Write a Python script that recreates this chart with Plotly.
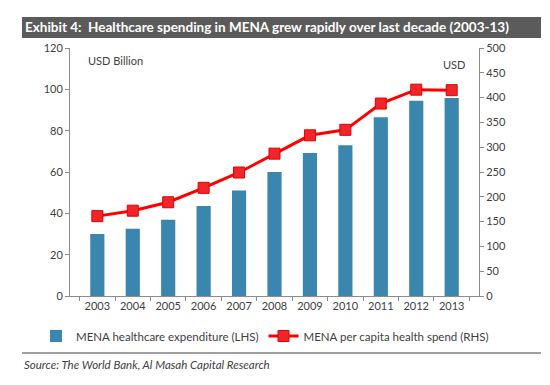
import plotly.graph_objects as go

years = ["2003", "2004", "2005", "2006", "2007", "2008", "2009", "2010", "2011", "2012", "2013"]
expenditure_bn = [30.0, 32.6, 36.9, 43.5, 51.0, 60.0, 69.2, 73.0, 86.5, 94.5, 95.8]
per_capita_usd = [161, 172, 189, 218, 249, 287, 324, 335, 388, 416, 415]

bar_name = "MENA healthcare expenditure (LHS)"
line_name = "MENA per capita health spend (RHS)"
title_text = "Exhibit 4:  Healthcare spending in MENA grew rapidly over last decade (2003-13)"
source_text = "Source: The World Bank, Al Masah Capital Research"

W, H = 550, 385
L, R, T, B = 62, 471, 40, 288  # plot area in pixels
PW, PH = R - L, B - T


def px(x):
    return (x - L) / PW


def py(y):
    return (B - y) / PH


FONT = "Lato, 'Open Sans', sans-serif"
TXT = "#404040"
AXC = "#8c8c8c"

fig = go.Figure()
fig.add_trace(go.Bar(
    x=years, y=expenditure_bn, name=bar_name,
    marker=dict(color="#3A86AF", line=dict(width=0)),
    yaxis="y",
))
fig.add_trace(go.Scatter(
    x=years, y=per_capita_usd, name=line_name, yaxis="y2",
    mode="lines+markers",
    line=dict(color="#FF0000", width=3),
    marker=dict(symbol="square", size=11, color="#F0262A", line=dict(color="#E00000", width=1)),
))

fig.update_layout(
    width=W, height=H,
    margin=dict(l=L, r=W - R, t=T, b=H - B, pad=0),
    paper_bgcolor="white", plot_bgcolor="white",
    font=dict(family=FONT, size=11, color=TXT),
    bargap=0.6,
    showlegend=True,
    legend=dict(
        orientation="h", x=px(28), xanchor="left", y=py(328), yanchor="middle",
        font=dict(size=11.5, color=TXT), bgcolor="rgba(0,0,0,0)",
        itemwidth=30, traceorder="normal", tracegroupgap=0,
    ),
    xaxis=dict(
        type="category", showgrid=False, showline=True, linecolor=AXC, linewidth=1,
        ticks="outside", tickson="boundaries", ticklen=4, tickcolor=AXC,
        tickfont=dict(size=11, color=TXT),
    ),
    yaxis=dict(
        range=[0, 120], dtick=20, showgrid=False, showline=True, linecolor=AXC,
        linewidth=1, ticks="outside", ticklen=4, tickcolor=AXC, zeroline=False,
        tickfont=dict(size=11, color=TXT),
    ),
    yaxis2=dict(
        range=[0, 500], dtick=50, overlaying="y", side="right", showgrid=False,
        showline=True, linecolor=AXC, linewidth=1, ticks="outside", ticklen=4,
        tickcolor=AXC, zeroline=False, tickfont=dict(size=11, color=TXT),
    ),
    shapes=[
        dict(type="rect", xref="paper", yref="paper", x0=px(14), x1=px(533),
             y0=py(30), y1=py(9), fillcolor="#5B5B5B", line=dict(width=0), layer="below"),
        dict(type="line", xref="paper", yref="paper", x0=px(14), x1=px(533),
             y0=py(345), y1=py(345), line=dict(color="#7f7f7f", width=1.5)),
    ],
    annotations=[
        dict(text="<b>" + title_text + "</b>", xref="paper", yref="paper",
             x=px(15), y=py(19.5), xanchor="left", yanchor="middle", showarrow=False,
             font=dict(size=13.5, color="white", family=FONT)),
        dict(text="USD Billion", xref="paper", yref="paper", x=px(78), y=py(53),
             xanchor="left", yanchor="middle", showarrow=False,
             font=dict(size=11, color=TXT)),
        dict(text="USD", xref="paper", yref="paper", x=px(433), y=py(56),
             xanchor="left", yanchor="middle", showarrow=False,
             font=dict(size=11, color=TXT)),
        dict(text="<i>" + source_text + "</i>", xref="paper", yref="paper",
             x=px(14), y=py(356), xanchor="left", yanchor="middle", showarrow=False,
             font=dict(size=11.5, color=TXT)),
    ],
)

fig.write_html("out.html")
